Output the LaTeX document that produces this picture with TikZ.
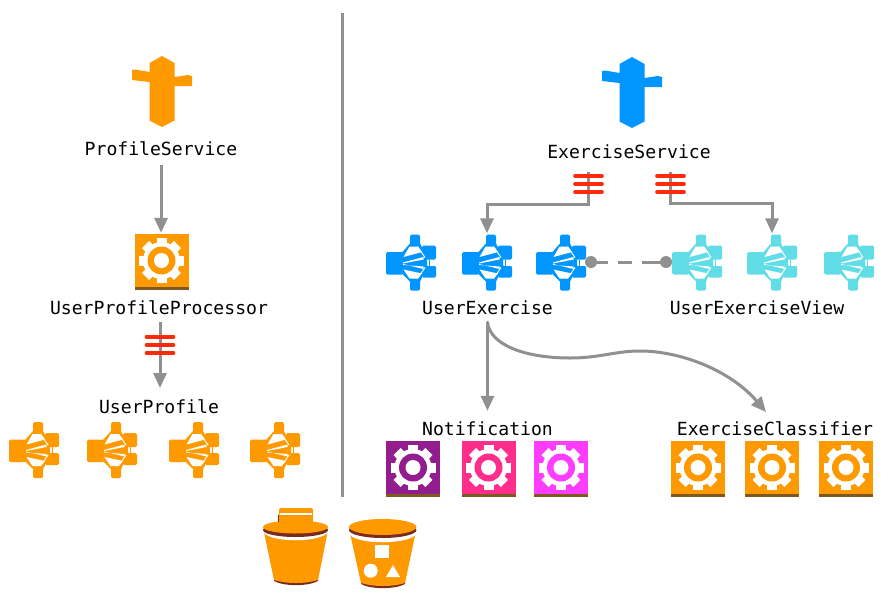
\documentclass[tikz,border=0pt]{standalone}
\usepackage{fontspec}
\setmonofont{DejaVu Sans Mono}
\usetikzlibrary{arrows.meta}
\definecolor{awsorange}{HTML}{FF9900}
\definecolor{awsblue}{HTML}{0095FF}
\definecolor{awscyan}{HTML}{61DDE8}
\definecolor{awspurple}{HTML}{931C8E}
\definecolor{awspink}{HTML}{FF2D8C}
\definecolor{awsmagenta}{HTML}{FF3CFF}
\definecolor{barred}{HTML}{FF2A0A}
\definecolor{tilebrown}{HTML}{7F5A20}
\definecolor{rimdark}{HTML}{7A2A1E}
\definecolor{conn}{HTML}{909090}
\tikzset{
  lbl/.style={inner sep=0pt,font=\fontsize{18.1}{20}\selectfont\ttfamily,text=black,minimum height=#1},
  lbl/.default=28pt,
  tile/.style={fill=#1,inner sep=0pt,minimum width=54pt,minimum height=56pt},
  holder/.style={inner sep=0pt,minimum width=#1,minimum height=56pt},
  link/.style={draw=conn,line width=3pt,-{Triangle[length=15pt,width=13pt]}},
  plain/.style={draw=conn,line width=3pt},
  dotend/.style={circle,fill=conn,inner sep=0pt,minimum size=12pt},
  crossbars/.style={inner sep=0pt,minimum width=31pt,minimum height=24pt},
  redbar/.style={draw=barred,line width=3.6pt,line cap=round}
}
\newcommand{\gearicon}[4]{%
  \node[tile=#4] (#1) at (#2,#3) {};
  \begin{scope}[shift={(#2,#3)}]
    \fill[tilebrown] (-27,25) rectangle (27,28);
    \begin{scope}[shift={(0,-1.5)}]
      \fill[white] (0,0) circle (18.5);
      \foreach \a in {0,45,...,315}{\fill[white,rotate=\a] (-5,-22.5) rectangle (5,-15);}
      \fill[#4] (0,0) circle (14);
      \fill[white] (0,0) circle (7.5);
    \end{scope}
  \end{scope}}
\newcommand{\fanicon}[4]{%
  \node[holder=50pt] (#1) at (#2,#3) {};
  \begin{scope}[shift={(#2,#3)}]
    \fill[#4,rounded corners=1.5pt] (-25,-10.5) rectangle (-8,12);
    \fill[#4,rounded corners=1.5pt] (-1,-28) rectangle (9,-15);
    \fill[#4,rounded corners=1.5pt] (-1,15) rectangle (9,28);
    \fill[#4,rounded corners=1.5pt] (11,-17) rectangle (25,-3);
    \fill[#4,rounded corners=1.5pt] (11,3) rectangle (25,15);
    \fill[#4] (-9,-10) -- (-1,-19) -- (9,-19) -- (16,-5) -- (16,5) -- (9,19) -- (-1,19) -- (-9,11) -- cycle;
    \fill[white] (-7.5,-5.5) -- (-1.5,-16) -- (6.5,-16) -- (11,-10.5) -- cycle;
    \fill[white] (-7.5,7) -- (-1.5,16) -- (6.5,16) -- (11,11) -- cycle;
    \fill[white] (-8,0) -- (12.5,-5.5) -- (12.5,-3) -- (-8,1) -- cycle;
    \fill[white] (-8,1.5) -- (12.5,6.5) -- (12.5,4) -- (-8,2.5) -- cycle;
    \draw[white,line width=1pt] (6.5,-16) -- (14,-5);
    \draw[white,line width=1pt] (6.5,16) -- (14,5);
    \fill[white] (17,-2.5) rectangle (26,3);
    \draw[#4,line width=1.6pt] (18.5,-3) -- (18.5,3);
  \end{scope}}
\newcommand{\gateicon}[4]{%
  \node[inner sep=0pt,minimum width=60pt,minimum height=71pt] (#1) at (#2,#3) {};
  \begin{scope}[shift={(#2,#3)}]
    \fill[#4] (0,-35.5) -- (12.5,-28.5) -- (12.5,-14.5) -- (26,-16.5) -- (30,-15.5) -- (30,-5.5) -- (12.5,-5.5) -- (12.5,29) -- (0,35.5) -- (-12.5,29) -- (-12.5,-9.5) -- (-30,-11.5) -- (-30,-21.5) -- (-27,-22) -- (-12.5,-19.5) -- (-12.5,-28.5) -- cycle;
  \end{scope}}
\newcommand{\crossing}[3]{%
  \node[crossbars] (#1) at (#2,#3) {};}
\newcommand{\crossbars}[2]{%
  \foreach \d in {-8,0,8}{\draw[redbar] (#1-13.5,#2+\d) -- (#1+13.5,#2+\d);}}
\begin{document}
\begin{tikzpicture}[x=1pt,y=-1pt]
\useasboundingbox (0,0) rectangle (889,598);
\fill[white] (0,0) rectangle (889,598);

% divider
\coordinate (divtop) at (342,13);
\coordinate (divbot) at (342,497);
\draw[plain] (divtop) -- (divbot);

% labels
\node[lbl=32pt] (profileservice) at (161,149) {ProfileService};
\node[lbl] (processor) at (159,308) {UserProfileProcessor};
\node[lbl=36pt] (userprofile) at (159,407) {UserProfile};
\node[lbl=40pt] (exerciseservice) at (629,152) {ExerciseService};
\node[lbl] (userexercise) at (487.5,308) {UserExercise};
\node[lbl] (userexerciseview) at (757,308) {UserExerciseView};
\node[lbl=36pt] (notification) at (487.5,429) {Notification};
\node[lbl=36pt] (classifier) at (775,429) {ExerciseClassifier};

% gateways
\gateicon{gwprofile}{162}{91.5}{awsorange}
\gateicon{gwexercise}{632}{92.5}{awsblue}

% left column
\gearicon{gearproc}{161.5}{262}{awsorange}
\fanicon{upa}{34}{450}{awsorange}
\fanicon{upb}{112}{450}{awsorange}
\fanicon{upc}{194}{450}{awsorange}
\fanicon{upd}{275}{450}{awsorange}

% right column
\fanicon{uea}{411}{262.5}{awsblue}
\fanicon{ueb}{487}{262.5}{awsblue}
\fanicon{uec}{561}{262.5}{awsblue}
\fanicon{uva}{697}{262.5}{awscyan}
\fanicon{uvb}{772}{262.5}{awscyan}
\fanicon{uvc}{849}{262.5}{awscyan}

\gearicon{na}{413}{469}{awspurple}
\gearicon{nb}{488.5}{469}{awspink}
\gearicon{nc}{561}{469}{awsmagenta}
\gearicon{eca}{698}{469}{awsorange}
\gearicon{ecb}{772}{469}{awsorange}
\gearicon{ecc}{846}{469}{awsorange}

% connectors
\draw[link,shorten >=1pt] (profileservice.south) -- (gearproc.north -| profileservice.south);
\crossing{barsproc}{160}{345}
\coordinate (barsprocend) at (160,388);
\draw[link] (processor.south -| barsproc) -- (barsprocend);
\crossbars{160}{345}

\crossing{barsa}{588.5}{184}
\crossing{barsb}{670.5}{184}
\coordinate (ja) at (487,204);
\coordinate (jb) at (772,203);
\draw[link,shorten >=1pt] (barsa.north) |- (ja) -- (ueb.north);
\draw[link,shorten >=1pt] (barsb.north) |- (jb) -- (uvb.north);
\crossbars{588.5}{184}
\crossbars{670.5}{184}

\node[dotend] (dota) at (591,262) {};
\node[dotend] (dotb) at (666,262) {};
\draw[conn,line width=3pt,dash pattern=on 17pt off 10pt on 14pt off 10pt on 30pt] (dota.center) -- (dotb.center);

\draw[link] (userexercise.south) -- (notification.north);
\coordinate (curveend) at (766,412);
\draw[link,line cap=round] (userexercise.south) .. controls (490,345) and (525,358) .. (570,358)
  .. controls (600,358) and (615,351) .. (640,351)
  .. controls (680,351) and (730,370) .. (curveend);

% bucket with lid
\node[inner sep=0pt,minimum width=65pt,minimum height=78pt] (bucketa) at (295.5,547) {};
\fill[rimdark] (274,578) -- (318,578) -- (318,581) .. controls (308,586.5) and (284,586.5) .. (274,581) -- cycle;
\fill[awsorange] (263.5,530) -- (328,530) -- (318,580) .. controls (306,584) and (286,584) .. (274,580) -- cycle;
\fill[white] (263,526) -- (328.5,526) -- (328.5,532) .. controls (320,543) and (271,543) .. (263,532) -- cycle;
\fill[rimdark] (295.5,530) ellipse (32.5 and 7);
\fill[awsorange] (295.5,527) ellipse (32.5 and 6.5);
\fill[awsorange] (278.5,515) rectangle (313,526);
\fill[awsorange,rounded corners=2pt] (279,508) rectangle (313,516);
\fill[white] (280,513) rectangle (312,515.2);
\fill[rimdark] (278.3,515) rectangle (279.3,522);

% bucket with shapes
\node[inner sep=0pt,minimum width=68pt,minimum height=70pt] (bucketb) at (383,554) {};
\fill[rimdark] (361,581) -- (405,581) -- (405,584) .. controls (395,589.5) and (371,589.5) .. (361,584) -- cycle;
\fill[awsorange] (349.5,531) -- (416,531) -- (405,583) .. controls (393,587) and (373,587) .. (361,583) -- cycle;
\fill[white] (349,529) -- (416.5,529) -- (416.5,534) .. controls (408,545) and (357,545) .. (349,534) -- cycle;
\fill[rimdark] (382.7,530) ellipse (33.7 and 8);
\fill[awsorange] (382.7,527) ellipse (33.7 and 8);
\fill[white] (375,545) rectangle (388.7,558);
\fill[white] (370.7,570.7) circle (7);
\fill[white] (393,565) -- (386,577) -- (400,577) -- cycle;
\end{tikzpicture}
\end{document}
